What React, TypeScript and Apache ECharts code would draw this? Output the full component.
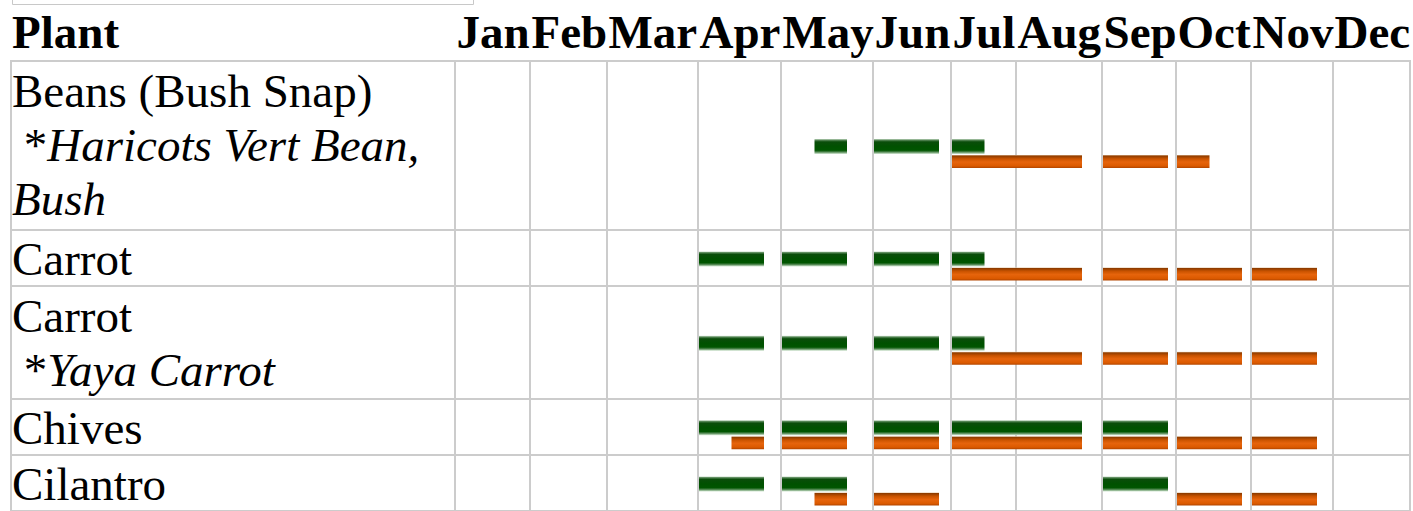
import React, { useEffect, useRef } from "react";
import * as echarts from "echarts";

// ---------- data ----------
const months = ["Jan", "Feb", "Mar", "Apr", "May", "Jun", "Jul", "Aug", "Sep", "Oct", "Nov", "Dec"];
const plantNames = ["Beans (Bush Snap)", "Carrot", "Carrot", "Chives", "Cilantro"];
const varietyLines: string[][] = [["Haricots Vert Bean,", "Bush"], [], ["Yaya Carrot"], [], []];
// half-month ranges [start, end), 0 = first half of January
const sowRanges: number[][][] = [[[9, 13]], [[6, 13]], [[6, 13]], [[6, 18]], [[6, 10], [16, 18]]];
const harvestRanges: number[][][] = [[[12, 19]], [[12, 22]], [[12, 22]], [[7, 22]], [[9, 12], [18, 22]]];

// ---------- layout ----------
const COL_RULES = [455, 530, 607, 698, 781, 873, 951, 1016, 1102, 1176, 1251, 1333, 1410];
const TABLE_LEFT = 11;
const TABLE_TOP = 61;
const LINE_UNIT = 56.8;
const TOTAL_UNITS = 8;
const CELL_IMG_W = 65;
const FONT = "Liberation Serif";
const FS = 47;
const LH = 54;
const RULE = "#cccccc";

export default function App() {
  const ref = useRef<HTMLDivElement>(null);
  useEffect(() => {
    document.body.style.margin = "0";
    const chart = echarts.init(ref.current!, null, { renderer: "svg" });

    // row placement in "text line" units
    const rowStart: number[] = [];
    const rowLines: number[] = [];
    let acc = 0;
    plantNames.forEach((_, i) => {
      rowStart.push(acc);
      const n = 1 + varietyLines[i].length;
      rowLines.push(n);
      acc += n;
    });

    const monthData: number[][][] = months.map(() => []);
    const addRanges = (ranges: number[][], mid: number, kind: number) => {
      ranges.forEach(([s, e]) => {
        for (let m = 0; m < 12; m++) {
          const a = Math.max(s, 2 * m);
          const b = Math.min(e, 2 * m + 2);
          if (a < b) monthData[m].push([a - 2 * m, b - 2 * m, mid, kind]);
        }
      });
    };
    plantNames.forEach((_, i) => {
      const mid = rowStart[i] + rowLines[i] / 2;
      addRanges(sowRanges[i], mid, 0);
      addRanges(harvestRanges[i], mid, 1);
    });

    const greenFill = new echarts.graphic.LinearGradient(0, 0, 0, 1, [
      { offset: 0, color: "#d6e8d6" },
      { offset: 0.08, color: "#5b8a5b" },
      { offset: 0.2, color: "#0a4d0a" },
      { offset: 0.5, color: "#005100" },
      { offset: 0.76, color: "#005500" },
      { offset: 0.87, color: "#4c844c" },
      { offset: 1, color: "#d2e6d2" },
    ]);
    const orangeFill = new echarts.graphic.LinearGradient(0, 0, 0, 1, [
      { offset: 0, color: "#f2dcc0" },
      { offset: 0.08, color: "#8e3c00" },
      { offset: 0.3, color: "#c95300" },
      { offset: 0.55, color: "#e6640c" },
      { offset: 0.85, color: "#dc5a00" },
      { offset: 1, color: "#b34600" },
    ]);

    const grids = months.map((_, m) => ({
      left: COL_RULES[m] + 1,
      width: CELL_IMG_W,
      top: TABLE_TOP,
      height: TOTAL_UNITS * LINE_UNIT,
    }));
    const xAxes = months.map((_, m) => ({ type: "value", gridIndex: m, min: 0, max: 2, show: false }));
    const yAxes = months.map((_, m) => ({
      type: "value", gridIndex: m, min: 0, max: TOTAL_UNITS, inverse: true, show: false,
    }));
    const series = months.map((name, m) => ({
      type: "custom",
      name,
      xAxisIndex: m,
      yAxisIndex: m,
      data: monthData[m],
      silent: true,
      renderItem: (_p: any, api: any) => {
        const x0 = api.value(0), x1 = api.value(1), mid = api.value(2), kind = api.value(3);
        const p0 = api.coord([x0, mid]);
        const p1 = api.coord([x1, mid]);
        const sow = kind === 0;
        return {
          type: "rect",
          shape: { x: p0[0], y: sow ? p0[1] - 6.5 : p0[1] + 9.5, width: p1[0] - p0[0], height: sow ? 15 : 13 },
          style: { fill: sow ? greenFill : orangeFill },
        };
      },
    }));

    chart.setOption({ animation: false, grid: grids, xAxis: xAxes, yAxis: yAxes, series });

    const yPx = (u: number) => chart.convertToPixel({ yAxisIndex: 0 }, u) as number;
    const baselineToMid = 16;
    const graphics: any[] = [];

    // box above the table
    graphics.push({ type: "rect", shape: { x: 12.5, y: -20, width: 461, height: 24.5 }, style: { fill: "none", stroke: "#c8c8c8", lineWidth: 1 } });

    // horizontal rules
    const hUnits = [...rowStart, TOTAL_UNITS];
    hUnits.forEach((u) => {
      const y = Math.round(yPx(u));
      graphics.push({ type: "line", shape: { x1: TABLE_LEFT - 1, y1: y, x2: 1411, y2: y }, style: { stroke: RULE, lineWidth: 2 } });
    });
    // vertical rules
    [TABLE_LEFT, ...COL_RULES].forEach((x) => {
      graphics.push({ type: "line", shape: { x1: x, y1: TABLE_TOP - 1, x2: x, y2: 520 }, style: { stroke: RULE, lineWidth: 2 } });
    });

    // header
    const headerBase = 48;
    graphics.push({
      type: "text", x: 12, y: headerBase - baselineToMid,
      style: { text: "Plant", fontFamily: FONT, fontSize: FS, fontWeight: "bold", fill: "#000", verticalAlign: "middle", align: "left" },
    });
    months.forEach((mName, m) => {
      graphics.push({
        type: "text", x: COL_RULES[m] + 1.5, y: headerBase - baselineToMid,
        style: { text: mName, fontFamily: FONT, fontSize: FS, fontWeight: "bold", fill: "#000", verticalAlign: "middle", align: "left" },
      });
    });

    // plant labels
    const rich = {
      n: { fontFamily: FONT, fontSize: FS, fontStyle: "normal", fill: "#000" },
      i: { fontFamily: FONT, fontSize: FS, fontStyle: "italic", fill: "#000" },
    };
    plantNames.forEach((pName, i) => {
      const top = yPx(rowStart[i]);
      const lines = [pName, ...varietyLines[i]];
      lines.forEach((ln, k) => {
        const base = top + 45.5 + k * LH;
        let text: string;
        if (k === 0) text = `{n|${ln}}`;
        else if (k === 1) text = `{n| *}{i|${ln}}`;
        else text = `{i|${ln}}`;
        graphics.push({
          type: "text", x: 12, y: base - baselineToMid,
          style: { text, rich, fontFamily: FONT, fontSize: FS, fill: "#000", verticalAlign: "middle", align: "left" },
        });
      });
    });

    chart.setOption({ graphic: { elements: graphics } });
    return () => chart.dispose();
  }, []);
  return <div ref={ref} style={{ width: 1413, height: 511 }} />;
}
